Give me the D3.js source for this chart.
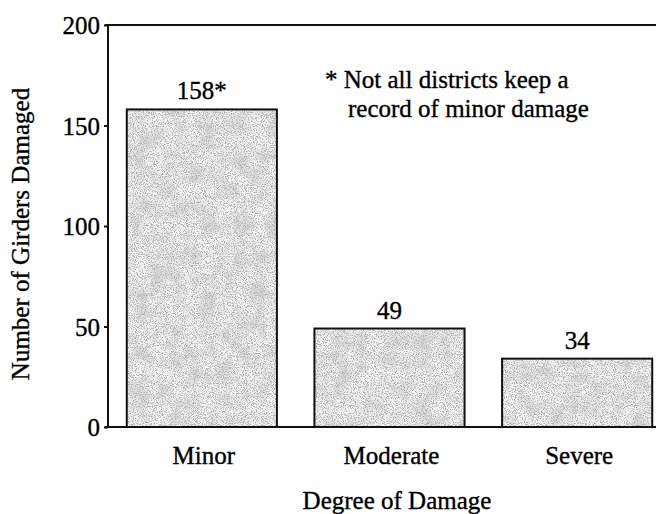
<!DOCTYPE html>
<html>
<head>
<meta charset="utf-8">
<script src="https://cdn.jsdelivr.net/npm/d3@7"></script>
<style>
  html, body { margin: 0; padding: 0; background: #fff; }
  svg text { font-family: "Liberation Serif", "Times New Roman", serif; fill: #000; stroke: #000; stroke-width: 0.35px; }
</style>
</head>
<body>
<svg id="chart" width="656" height="514"></svg>
<script>
const categories = ["Minor", "Moderate", "Severe"];
const values = [158, 49, 34];
const valueLabels = ["158*", "49", "34"];
const yTicks = [0, 50, 100, 150, 200];
const yTitle = "Number of Girders Damaged";
const xTitle = "Degree of Damage";
const noteLines = ["* Not all districts keep a", "record of minor damage"];

const svg = d3.select("#chart");
const plotLeft = 108, plotRight = 656, plotTop = 25, plotBottom = 427;

const y = d3.scaleLinear().domain([0, 200]).range([plotBottom, plotTop]);
const x = d3.scaleBand().domain(categories).range([plotLeft, 671])
  .paddingInner(0.2).paddingOuter(0.1);

const defs = svg.append("defs");
const f = defs.append("filter").attr("id", "stipple")
  .attr("x", 0).attr("y", 0).attr("width", 1).attr("height", 1);
f.append("feTurbulence").attr("type", "fractalNoise")
  .attr("baseFrequency", 0.9).attr("numOctaves", 3).attr("seed", 7).attr("result", "noise");
f.append("feColorMatrix").attr("in", "noise").attr("type", "matrix")
  .attr("values", "0 0 0 0 0.45  0 0 0 0 0.45  0 0 0 0 0.45  5 0 0 0 -2.35")
  .attr("result", "dots");
const f2 = defs.append("filter").attr("id", "blotch")
  .attr("x", 0).attr("y", 0).attr("width", 1).attr("height", 1);
f2.append("feTurbulence").attr("type", "fractalNoise")
  .attr("baseFrequency", 0.06).attr("numOctaves", 2).attr("seed", 3);
f2.append("feColorMatrix").attr("type", "matrix")
  .attr("values", "0 0 0 0 0.65  0 0 0 0 0.65  0 0 0 0 0.65  2.0 0 0 0 -0.75");

// bars
const bars = svg.append("g");
const barAttrs = sel => sel
  .attr("x", (d, i) => x(categories[i])).attr("y", d => y(d))
  .attr("width", x.bandwidth()).attr("height", d => y(0) - y(d));
bars.selectAll("rect.base").data(values).join("rect").attr("class", "base")
  .call(barAttrs).attr("fill", "#f6f6f6");
bars.selectAll("rect.bl").data(values).join("rect").attr("class", "bl")
  .call(barAttrs).attr("fill", "#000").attr("filter", "url(#blotch)");
bars.selectAll("rect.st").data(values).join("rect").attr("class", "st")
  .call(barAttrs).attr("fill", "#000").attr("filter", "url(#stipple)");
bars.selectAll("rect.ol").data(values).join("rect").attr("class", "ol")
  .call(barAttrs).attr("fill", "none").attr("stroke", "#111").attr("stroke-width", 2);

// value labels
svg.append("g").selectAll("text").data(values).join("text")
  .attr("x", (d, i) => x(categories[i]) + x.bandwidth() / 2)
  .attr("y", d => y(d) - 10)
  .attr("text-anchor", "middle").attr("font-size", 25)
  .text((d, i) => valueLabels[i]);

// y axis
const yAxis = svg.append("g").attr("transform", `translate(${plotLeft},0)`)
  .call(d3.axisLeft(y).tickValues(yTicks).tickSize(4).tickPadding(4));
yAxis.select(".domain").remove();
yAxis.selectAll(".tick line").attr("stroke", "#111").attr("stroke-width", 2);
yAxis.selectAll(".tick text").attr("font-size", 25)
  .attr("font-family", "Liberation Serif").attr("fill", "#000").attr("dy", "0.34em");

// frame lines
svg.append("line").attr("x1", plotLeft).attr("x2", plotLeft).attr("y1", plotTop - 1).attr("y2", plotBottom + 1)
  .attr("stroke", "#111").attr("stroke-width", 2);
svg.append("line").attr("x1", plotLeft - 3).attr("x2", plotRight).attr("y1", plotTop).attr("y2", plotTop)
  .attr("stroke", "#111").attr("stroke-width", 2);
svg.append("line").attr("x1", plotLeft - 3).attr("x2", plotRight).attr("y1", plotBottom).attr("y2", plotBottom)
  .attr("stroke", "#111").attr("stroke-width", 2);

// category labels
svg.append("g").selectAll("text").data(categories).join("text")
  .attr("x", d => x(d) + x.bandwidth() / 2 + 2).attr("y", 464)
  .attr("text-anchor", "middle").attr("font-size", 25).text(d => d);

// axis titles
svg.append("text").attr("x", 397).attr("y", 509).attr("text-anchor", "middle")
  .attr("font-size", 25).text(xTitle);
svg.append("text").attr("transform", "translate(29,234) rotate(-90)")
  .attr("text-anchor", "middle").attr("font-size", 25).text(yTitle);

// note
svg.append("text").attr("x", 325).attr("y", 88).attr("font-size", 25).text(noteLines[0]);
svg.append("text").attr("x", 348).attr("y", 117).attr("font-size", 25).text(noteLines[1]);
</script>
</body>
</html>
